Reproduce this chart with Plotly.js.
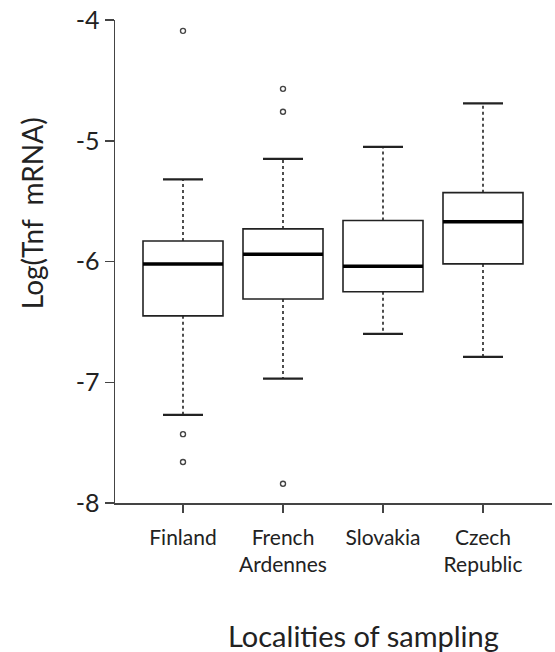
<!DOCTYPE html>
<html>
<head>
<meta charset="utf-8">
<script src="https://cdn.plot.ly/plotly-3.0.1.min.js"></script>
<style>html,body{margin:0;padding:0;background:#fff;}#chart{width:555px;height:652px;}</style>
</head>
<body>
<div id="chart"></div>
<script>
// ---- data ----
const categories = ['Finland', 'French<br>Ardennes', 'Slovakia', 'Czech<br>Republic'];
const positions = [0, 1, 2, 3];
const q1 = [-6.45, -6.31, -6.25, -6.02];
const median = [-6.02, -5.94, -6.04, -5.67];
const q3 = [-5.83, -5.73, -5.66, -5.43];
const lowerWhisker = [-7.27, -6.97, -6.60, -6.79];
const upperWhisker = [-5.32, -5.15, -5.05, -4.69];
const outliers = [[-4.09, -7.43, -7.66], [-4.57, -4.76, -7.84], [], []];
const yTickVals = [-8, -7, -6, -5, -4];

const boxWidth = 0.8;
const capHalf = boxWidth / 4;
const ink = '#222';

const traces = [];

// boxes (no whiskers; drawn separately)
traces.push({
  type: 'box',
  x: positions,
  q1: q1,
  median: median,
  q3: q3,
  lowerfence: q1,
  upperfence: q3,
  width: boxWidth,
  whiskerwidth: 0,
  boxpoints: false,
  fillcolor: '#fff',
  line: {color: ink, width: 1.6},
  hoverinfo: 'skip',
  showlegend: false
});

positions.forEach(function (p, i) {
  // dashed whiskers
  traces.push({
    type: 'scatter', mode: 'lines',
    x: [p, p, null, p, p],
    y: [q3[i], upperWhisker[i], null, q1[i], lowerWhisker[i]],
    line: {color: ink, width: 1.6, dash: '3px,3px'},
    hoverinfo: 'skip', showlegend: false
  });
  // whisker caps
  traces.push({
    type: 'scatter', mode: 'lines',
    x: [p - capHalf, p + capHalf, null, p - capHalf, p + capHalf],
    y: [upperWhisker[i], upperWhisker[i], null, lowerWhisker[i], lowerWhisker[i]],
    line: {color: ink, width: 2.3},
    hoverinfo: 'skip', showlegend: false
  });
  // thick median
  traces.push({
    type: 'scatter', mode: 'lines',
    x: [p - boxWidth / 2, p + boxWidth / 2],
    y: [median[i], median[i]],
    line: {color: '#000', width: 3.5},
    hoverinfo: 'skip', showlegend: false
  });
  // outliers
  if (outliers[i].length) {
    traces.push({
      type: 'scatter', mode: 'markers',
      x: outliers[i].map(function () { return p; }),
      y: outliers[i],
      marker: {symbol: 'circle-open', size: 5, color: '#444', line: {width: 1.4, color: '#444'}},
      hoverinfo: 'skip', showlegend: false
    });
  }
});

const layout = {
  width: 555,
  height: 652,
  margin: {l: 115, r: 3, t: 20, b: 149},
  paper_bgcolor: '#fff',
  plot_bgcolor: '#fff',
  font: {family: 'Lato, "Open Sans", sans-serif', color: ink},
  xaxis: {
    range: [-0.68, 3.69],
    tickvals: positions,
    ticktext: categories,
    showgrid: false,
    zeroline: false,
    showline: true,
    linecolor: '#444',
    linewidth: 1.5,
    ticks: 'outside',
    ticklen: 8,
    tickwidth: 1.5,
    tickcolor: '#444',
    ticklabelstandoff: 7,
    tickfont: {size: 21, family: 'Lato, sans-serif', color: ink},
    fixedrange: true
  },
  yaxis: {
    range: [-8, -4],
    tickvals: yTickVals,
    ticktext: yTickVals.map(function (v) { return String(v); }),
    showgrid: false,
    zeroline: false,
    showline: true,
    linecolor: '#444',
    linewidth: 1.5,
    ticks: 'outside',
    ticklen: 9,
    tickwidth: 1.5,
    tickcolor: '#444',
    tickfont: {size: 25, family: 'Lato, sans-serif', color: ink},
    fixedrange: true
  },
  annotations: [
    {
      text: 'Log(Tnf&nbsp;&nbsp;mRNA)',
      xref: 'paper', yref: 'paper',
      x: -0.19, y: 0.60,
      xanchor: 'center', yanchor: 'middle',
      textangle: -90,
      showarrow: false,
      font: {size: 28, family: 'Lato, sans-serif', color: ink}
    },
    {
      text: 'Localities of sampling',
      xref: 'paper', yref: 'paper',
      x: 0.568, y: -0.275,
      xanchor: 'center', yanchor: 'middle',
      showarrow: false,
      font: {size: 29, family: 'Lato, sans-serif', color: ink}
    }
  ]
};

Plotly.newPlot('chart', traces, layout, {staticPlot: true, displayModeBar: false});
</script>
</body>
</html>
